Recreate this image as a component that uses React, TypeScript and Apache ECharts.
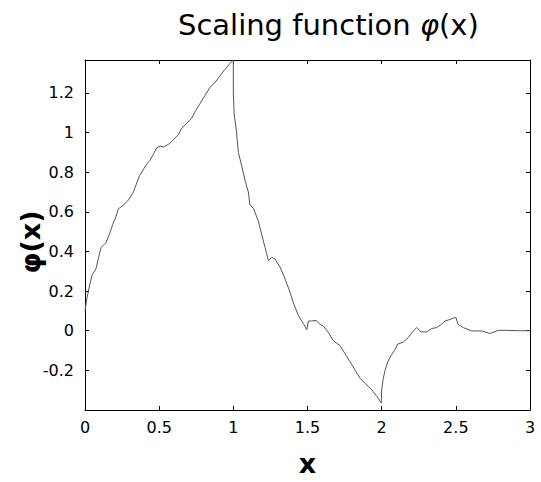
import React, { useEffect, useRef } from "react";
import * as echarts from "echarts";

const xValues = [
  0, 0.011, 0.022, 0.034, 0.047, 0.074, 0.092, 0.108, 0.142, 0.164, 0.187, 0.209, 0.225, 0.254,
  0.288, 0.31, 0.326, 0.366, 0.411, 0.438, 0.461, 0.483, 0.506, 0.528, 0.562, 0.595, 0.629,
  0.652, 0.686, 0.719, 0.742, 0.775, 0.809, 0.843, 0.877, 0.91, 0.944, 0.973, 1.0,
  1.0, 1.006, 1.02, 1.034, 1.056, 1.079, 1.101, 1.112, 1.135, 1.169, 1.191, 1.214, 1.236,
  1.259, 1.281, 1.315, 1.348, 1.382, 1.405, 1.438, 1.472, 1.495, 1.506, 1.528, 1.558, 1.585,
  1.607, 1.641, 1.674, 1.719, 1.753, 1.787, 1.821, 1.854, 1.888, 1.933, 1.967, 1.997,
  2.0, 2.011, 2.023, 2.041, 2.063, 2.086, 2.109, 2.146, 2.18, 2.214, 2.236, 2.265, 2.304,
  2.337, 2.371, 2.405, 2.427, 2.461, 2.5, 2.515, 2.55, 2.606, 2.674, 2.73, 2.787, 2.843,
  2.933, 3.0,
];

const phiValues = [
  0.1, 0.156, 0.197, 0.239, 0.28, 0.313, 0.37, 0.42, 0.445, 0.486, 0.536, 0.577, 0.615, 0.631,
  0.655, 0.68, 0.7, 0.78, 0.835, 0.86, 0.89, 0.923, 0.932, 0.927, 0.94, 0.964, 0.989,
  1.022, 1.047, 1.072, 1.105, 1.146, 1.187, 1.229, 1.253, 1.286, 1.319, 1.345, 1.366,
  1.196, 1.088, 1.014, 0.899, 0.833, 0.758, 0.7, 0.635, 0.618, 0.552, 0.486, 0.42, 0.354,
  0.37, 0.362, 0.321, 0.263, 0.195, 0.14, 0.078, 0.036, 0.005, 0.049, 0.049, 0.052, 0.032,
  0.024, -0.009, -0.05, -0.075, -0.116, -0.157, -0.199, -0.24, -0.265, -0.298, -0.331, -0.364,
  -0.298, -0.24, -0.199, -0.157, -0.125, -0.1, -0.067, -0.058, -0.034, -0.001, 0.016, -0.006, -0.006,
  0.011, 0.016, 0.034, 0.049, 0.057, 0.068, 0.032, 0.016, -0.001, -0.001, -0.014, 0.002, 0.002,
  0.0, 0.0,
];

const titleText = "Scaling function ";
const yName = "φ(x)";
const xName = "x";

export default function App() {
  const ref = useRef<HTMLDivElement>(null);
  useEffect(() => {
    if (!ref.current) return;
    const chart = echarts.init(ref.current, null, { renderer: "svg" });
    const data = xValues.map((x, i) => [x, phiValues[i]]);
    const font = "DejaVu Sans";
    const tickLabel = { color: "#000", fontSize: 16, fontFamily: font };
    chart.setOption({
      animation: false,
      backgroundColor: "#fff",
      title: {
        text: "{n|" + titleText + "}{i|φ}{n|(x)}",
        left: 173,
        top: 5,
        textStyle: {
          rich: {
            n: { fontSize: 29, fontFamily: font, color: "#000", fontWeight: "normal" },
            i: { fontSize: 29, fontFamily: font, color: "#000", fontStyle: "italic", fontWeight: "normal" },
          },
        },
      },
      graphic: [
        {
          type: "text",
          x: 30,
          y: 242,
          rotation: Math.PI / 2,
          style: {
            text: yName,
            fontSize: 27,
            fontFamily: font,
            fontWeight: "bold",
            fill: "#000",
            align: "center",
            verticalAlign: "middle",
          },
        },
      ],
      grid: { left: 85, right: 11, top: 60, bottom: 64, containLabel: false },
      xAxis: [
        {
          type: "value",
          min: 0,
          max: 3,
          interval: 0.5,
          position: "bottom",
          name: xName,
          nameLocation: "middle",
          nameGap: 40,
          nameTextStyle: { fontSize: 27, fontFamily: font, color: "#000", fontWeight: "bold" },
          axisLine: { show: true, onZero: false, lineStyle: { color: "#000", width: 1 } },
          axisTick: { show: true, inside: true, length: 4, lineStyle: { color: "#000" } },
          axisLabel: { ...tickLabel, margin: 9 },
          splitLine: { show: false },
        },
        {
          type: "value",
          min: 0,
          max: 3,
          interval: 0.5,
          position: "top",
          axisLine: { show: true, onZero: false, lineStyle: { color: "#000", width: 1 } },
          axisTick: { show: true, inside: true, length: 4, lineStyle: { color: "#000" } },
          axisLabel: { show: false },
          splitLine: { show: false },
        },
      ],
      yAxis: [
        {
          type: "value",
          min: -0.4,
          max: 1.366,
          interval: 0.2,
          position: "left",
          axisLine: { show: true, onZero: false, lineStyle: { color: "#000", width: 1 } },
          axisTick: { show: true, inside: true, length: 4, lineStyle: { color: "#000" } },
          axisLabel: {
            ...tickLabel,
            margin: 11,
            showMaxLabel: false,
            formatter: (v: number) => (v < -0.3 ? "" : String(Math.round(v * 10) / 10)),
          },
          splitLine: { show: false },
        },
        {
          type: "value",
          min: -0.4,
          max: 1.366,
          interval: 0.2,
          position: "right",
          axisLine: { show: true, onZero: false, lineStyle: { color: "#000", width: 1 } },
          axisTick: { show: true, inside: true, length: 4, lineStyle: { color: "#000" } },
          axisLabel: { show: false },
          splitLine: { show: false },
        },
      ],
      series: [
        {
          type: "line",
          data,
          xAxisIndex: 0,
          yAxisIndex: 0,
          showSymbol: false,
          symbol: "none",
          lineStyle: { color: "#555", width: 1 },
          clip: true,
        },
      ],
    });
    return () => chart.dispose();
  }, []);
  return (
    <div
      ref={ref}
      style={{ position: "fixed", left: 0, top: 0, width: 541, height: 482 }}
    />
  );
}
